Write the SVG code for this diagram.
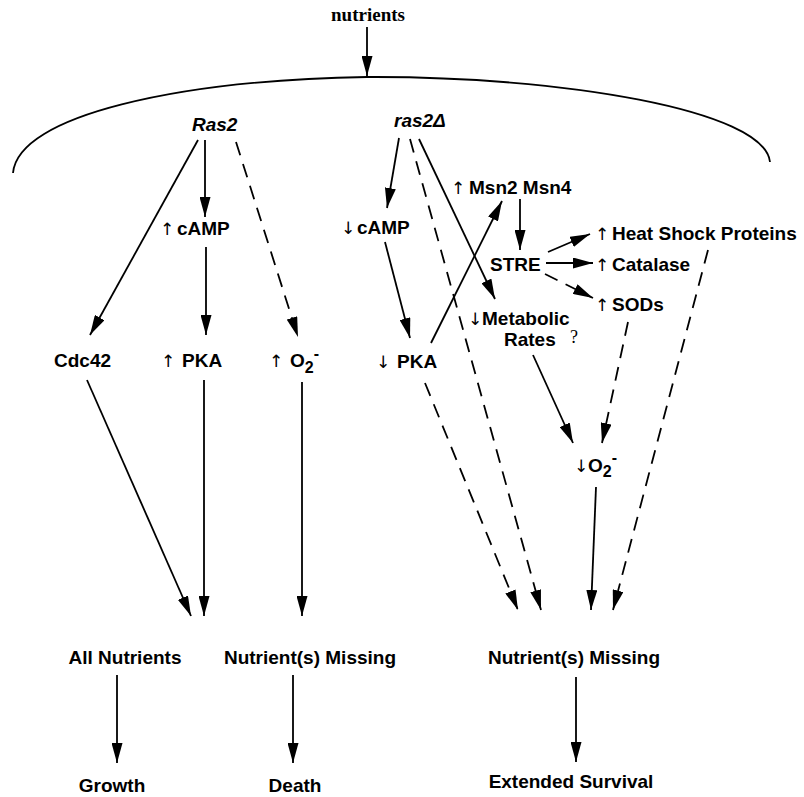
<svg xmlns="http://www.w3.org/2000/svg" width="804" height="797" viewBox="0 0 804 797">
<defs>
<marker id="ah" viewBox="0 0 20 11" refX="20" refY="5.5" markerWidth="20" markerHeight="11" markerUnits="userSpaceOnUse" orient="auto">
<path d="M0,0 L20,5.5 L0,11 z" fill="#000"/>
</marker>
<style>
.lbl{font-family:"Liberation Sans",Arial,sans-serif;font-weight:bold;font-size:19px;fill:#000}
.it{font-style:italic}
.arw{font-family:"DejaVu Sans","Noto Sans",sans-serif;font-weight:normal;font-size:17px;fill:#000}
.ser{font-family:"Liberation Serif","Times New Roman",serif}
.c{stroke:#000;stroke-width:1.8;fill:none;marker-end:url(#ah)}
.d{stroke-dasharray:14,9}
</style>
</defs>
<rect width="804" height="797" fill="#fff"/>
<path id="membrane" d="M13,173 C18,115 180,80 367,77 C560,76 765,110 770,162" fill="none" stroke="#000" stroke-width="1.8"/>
<g id="connectors">
<line class="c" x1="367" y1="27" x2="367" y2="76"/>
<line class="c" x1="198" y1="140" x2="90" y2="335"/>
<line class="c" x1="205" y1="140" x2="205" y2="217"/>
<line class="c d" x1="236" y1="142" x2="298" y2="337"/>
<line class="c" x1="206" y1="247" x2="206" y2="335"/>
<line class="c" x1="399" y1="138" x2="387" y2="208"/>
<line class="c d" x1="410" y1="139" x2="541" y2="610"/>
<line class="c" x1="419" y1="139" x2="495" y2="299"/>
<line class="c" x1="385" y1="242" x2="410" y2="338"/>
<line class="c" x1="431" y1="343" x2="502" y2="201"/>
<line class="c" x1="520" y1="199" x2="520" y2="250"/>
<line class="c" x1="548" y1="252" x2="590" y2="234"/>
<line class="c" x1="546" y1="263" x2="593" y2="263"/>
<line class="c d" x1="545" y1="274" x2="593" y2="298"/>
<line class="c" x1="533" y1="355" x2="573" y2="443"/>
<line class="c d" x1="628" y1="322" x2="602" y2="443"/>
<line class="c d" x1="708" y1="250" x2="613" y2="610"/>
<line class="c d" x1="425" y1="383" x2="518" y2="610"/>
<line class="c" x1="596" y1="487" x2="591" y2="610"/>
<line class="c" x1="87" y1="380" x2="191" y2="616"/>
<line class="c" x1="204" y1="380" x2="204" y2="616"/>
<line class="c" x1="302" y1="382" x2="302" y2="616"/>
<line class="c" x1="117" y1="675" x2="117" y2="763"/>
<line class="c" x1="293" y1="675" x2="293" y2="763"/>
<line class="c" x1="576" y1="677" x2="576" y2="762"/>
</g>
<g id="nutrients"><text class="lbl ser" x="368" y="21" text-anchor="middle">nutrients</text></g>
<g id="ras2"><text class="lbl it" x="192" y="131">Ras2</text></g>
<g id="ras2delta"><text class="lbl it" x="394" y="127">ras2Δ</text></g>
<g id="camp-up"><text class="arw" x="167" y="235" text-anchor="middle">↑</text><text class="lbl" x="177" y="235">cAMP</text></g>
<g id="camp-down"><text class="arw" x="348" y="234" text-anchor="middle">↓</text><text class="lbl" x="357" y="234">cAMP</text></g>
<g id="msn"><text class="arw" x="458" y="194" text-anchor="middle">↑</text><text class="lbl" x="469" y="194">Msn2 Msn4</text></g>
<g id="stre"><text class="lbl" x="490" y="271">STRE</text></g>
<g id="hsp"><text class="arw" x="602" y="240" text-anchor="middle">↑</text><text class="lbl" x="612" y="240">Heat Shock Proteins</text></g>
<g id="catalase"><text class="arw" x="602" y="271" text-anchor="middle">↑</text><text class="lbl" x="612" y="271">Catalase</text></g>
<g id="sods"><text class="arw" x="602" y="311" text-anchor="middle">↑</text><text class="lbl" x="612" y="311">SODs</text></g>
<g id="metabolic"><text class="arw" x="475" y="325" text-anchor="middle">↓</text><text class="lbl" x="482" y="325">Metabolic</text><text class="lbl" x="504" y="346">Rates</text><text class="ser" x="570" y="343" font-size="18">?</text></g>
<g id="cdc42"><text class="lbl" x="54" y="367">Cdc42</text></g>
<g id="pka-up"><text class="arw" x="168" y="367" text-anchor="middle">↑</text><text class="lbl" x="182" y="367">PKA</text></g>
<g id="o2-up"><text class="arw" x="276" y="367" text-anchor="middle">↑</text><text class="lbl" x="290" y="367">O<tspan font-size="16" dy="6">2</tspan><tspan font-size="16" dy="-14">-</tspan></text></g>
<g id="pka-down"><text class="arw" x="383" y="368" text-anchor="middle">↓</text><text class="lbl" x="397" y="368">PKA</text></g>
<g id="o2-down"><text class="arw" x="581" y="472" text-anchor="middle">↓</text><text class="lbl" x="588" y="472">O<tspan font-size="16" dy="5">2</tspan><tspan font-size="16" dy="-14">-</tspan></text></g>
<g id="all-nutrients"><text class="lbl" x="125" y="664" text-anchor="middle">All Nutrients</text></g>
<g id="missing-left"><text class="lbl" x="310" y="664" text-anchor="middle">Nutrient(s) Missing</text></g>
<g id="missing-right"><text class="lbl" x="574" y="664" text-anchor="middle">Nutrient(s) Missing</text></g>
<g id="growth"><text class="lbl" x="112" y="792" text-anchor="middle">Growth</text></g>
<g id="death"><text class="lbl" x="295" y="792" text-anchor="middle">Death</text></g>
<g id="survival"><text class="lbl" x="571" y="788" text-anchor="middle">Extended Survival</text></g>
</svg>
